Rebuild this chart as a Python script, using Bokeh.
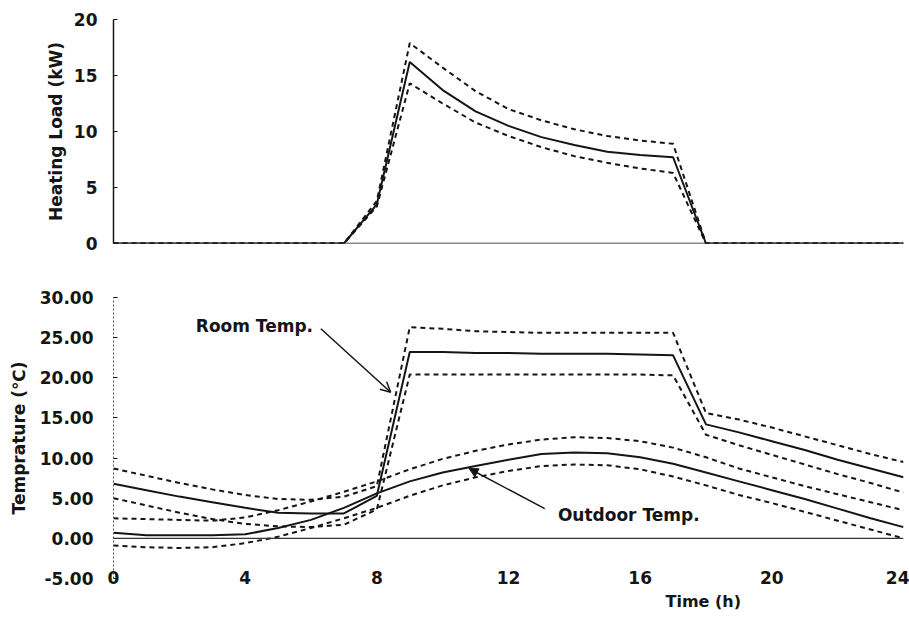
from bokeh.plotting import figure
from bokeh.layouts import column
from bokeh.models import (FixedTicker, NumeralTickFormatter, Span, Label, Arrow,
                          NormalHead, OpenHead, Range1d, Title)
from bokeh.embed import file_html
from bokeh.resources import INLINE

# ---- data -------------------------------------------------------------
hours = list(range(25))

# heating load (kW): mean and upper / lower bounds
load_mid = [0, 0, 0, 0, 0, 0, 0, 0, 3.5, 16.2, 13.7, 11.8, 10.5, 9.5, 8.8, 8.2, 7.9, 7.7, 0, 0, 0, 0, 0, 0, 0]
load_hi = [0, 0, 0, 0, 0, 0, 0, 0, 3.8, 17.9, 15.7, 13.6, 12.0, 11.0, 10.2, 9.6, 9.2, 8.9, 0, 0, 0, 0, 0, 0, 0]
load_lo = [0, 0, 0, 0, 0, 0, 0, 0, 3.3, 14.3, 12.5, 10.8, 9.6, 8.6, 7.8, 7.2, 6.7, 6.3, 0, 0, 0, 0, 0, 0, 0]

# room temperature (deg C)
room_mid = [6.8, 6.0, 5.2, 4.5, 3.8, 3.2, 3.1, 3.1, 5.3, 23.2, 23.2, 23.1, 23.1, 23.0, 23.0, 23.0, 22.9, 22.8,
            14.2, 13.2, 12.1, 11.0, 9.8, 8.7, 7.6]
room_hi = [8.7, 7.8, 6.9, 6.1, 5.4, 4.9, 4.8, 5.2, 6.5, 26.3, 26.1, 25.8, 25.7, 25.6, 25.6, 25.6, 25.6, 25.6,
           15.6, 14.8, 13.8, 12.7, 11.6, 10.5, 9.5]
room_lo = [5.0, 4.1, 3.2, 2.4, 1.8, 1.5, 1.4, 1.7, 3.6, 20.4, 20.4, 20.4, 20.4, 20.4, 20.4, 20.4, 20.4, 20.3,
           12.9, 11.6, 10.4, 9.2, 8.0, 6.9, 5.7]

# outdoor temperature (deg C)
out_mid = [0.7, 0.4, 0.4, 0.4, 0.5, 1.3, 2.3, 3.8, 5.6, 7.1, 8.2, 9.0, 9.8, 10.5, 10.7, 10.6, 10.1, 9.3,
           8.2, 7.1, 6.0, 4.9, 3.7, 2.5, 1.4]
out_hi = [2.5, 2.4, 2.3, 2.2, 2.6, 3.5, 4.6, 5.8, 7.1, 8.6, 9.9, 10.9, 11.7, 12.3, 12.6, 12.5, 12.1, 11.3,
          10.1, 8.7, 7.6, 6.5, 5.5, 4.5, 3.5]
out_lo = [-0.9, -1.1, -1.2, -1.1, -0.6, 0.2, 1.3, 2.5, 3.8, 5.3, 6.6, 7.6, 8.4, 9.0, 9.2, 9.1, 8.6, 7.7,
          6.6, 5.4, 4.4, 3.3, 2.2, 1.1, 0.0]

load_ticks = [0, 5, 10, 15, 20]
temp_ticks = [-5, 0, 5, 10, 15, 20, 25, 30]
time_ticks = [0, 4, 8, 12, 16, 20, 24]

# ---- styling ----------------------------------------------------------
INK = "#151515"
FONT = "DejaVu Sans"
DASH = "5 4"
LW = 2


def style_left_axis(ax, label_standoff, axis_standoff):
    ax.major_label_text_font = FONT
    ax.major_label_text_font_style = "bold"
    ax.major_label_text_font_size = "17px"
    ax.major_label_text_color = INK
    ax.major_label_standoff = label_standoff
    ax.axis_label_text_font = FONT
    ax.axis_label_text_font_style = "bold"
    ax.axis_label_text_font_size = "17px"
    ax.axis_label_text_color = INK
    ax.axis_label_standoff = axis_standoff
    ax.minor_tick_line_color = None
    ax.major_tick_in = 4
    ax.major_tick_out = 0
    ax.major_tick_line_color = INK


# ---- top panel: heating load -------------------------------------------
p1 = figure(width=909, height=270, x_range=Range1d(0, 24), y_range=Range1d(0, 20),
            output_backend="svg", toolbar_location=None,
            min_border_left=113, min_border_right=6, min_border_top=19, min_border_bottom=27)
p1.outline_line_color = None
p1.grid.visible = False
p1.xaxis.visible = False
p1.yaxis.ticker = FixedTicker(ticks=load_ticks)
p1.yaxis.axis_label = "Heating Load (kW)"
p1.yaxis.axis_line_color = INK
p1.yaxis.axis_line_width = 1.5
style_left_axis(p1.yaxis[0], 16, 5)
p1.add_layout(Span(location=0, dimension="width", line_color=INK, line_width=1.5))

p1.line(hours, load_hi, line_color=INK, line_width=LW, line_dash=DASH)
p1.line(hours, load_lo, line_color=INK, line_width=LW, line_dash=DASH)
p1.line(hours, load_mid, line_color=INK, line_width=LW)

# ---- bottom panel: temperatures ----------------------------------------
p2 = figure(width=909, height=348, x_range=Range1d(0, 24), y_range=Range1d(-5, 30),
            output_backend="svg", toolbar_location=None,
            min_border_left=113, min_border_right=6, min_border_top=27, min_border_bottom=40)
p2.outline_line_color = None
p2.grid.visible = False
p2.yaxis.ticker = FixedTicker(ticks=temp_ticks)
p2.yaxis.formatter = NumeralTickFormatter(format="0.00")
p2.yaxis.axis_label = "Temprature (\u2103)"
p2.yaxis.axis_line_color = "#555555"
p2.yaxis.axis_line_dash = "2 2"
p2.yaxis.axis_line_width = 1
style_left_axis(p2.yaxis[0], 20, 8)

p2.xaxis.ticker = FixedTicker(ticks=time_ticks)
p2.xaxis.axis_line_color = None
p2.xaxis.major_tick_line_color = None
p2.xaxis.minor_tick_line_color = None
p2.xaxis.major_label_text_font = FONT
p2.xaxis.major_label_text_font_style = "bold"
p2.xaxis.major_label_text_font_size = "17px"
p2.xaxis.major_label_text_color = INK
p2.xaxis.major_label_standoff = -14

# x-axis title, set off toward the right as in the printed figure
p2.add_layout(Title(text="Time (h)", align="left", offset=552, standoff=7,
                    text_font=FONT, text_font_style="bold", text_font_size="16px",
                    text_color=INK), "below")

p2.add_layout(Span(location=0, dimension="width", line_color="#333333", line_width=1.2))

for series in (room_hi, room_lo, out_hi, out_lo):
    p2.line(hours, series, line_color=INK, line_width=LW, line_dash=DASH)
for series in (room_mid, out_mid):
    p2.line(hours, series, line_color=INK, line_width=LW)

# annotations
room_label_at = (2.5, 26.4)
room_arrow = (6.3, 26.1, 8.42, 18.2)
out_label_at = (13.5, 2.9)
out_arrow = (13.1, 3.7, 10.8, 8.7)

p2.add_layout(Label(x=room_label_at[0], y=room_label_at[1], text="Room Temp.",
                    text_font=FONT, text_font_style="bold", text_font_size="17px",
                    text_color=INK, text_baseline="middle"))
p2.add_layout(Arrow(x_start=room_arrow[0], y_start=room_arrow[1], x_end=room_arrow[2], y_end=room_arrow[3],
                    line_color=INK, line_width=1.5,
                    end=OpenHead(size=10, line_color=INK, line_width=1.5)))
p2.add_layout(Label(x=out_label_at[0], y=out_label_at[1], text="Outdoor Temp.",
                    text_font=FONT, text_font_style="bold", text_font_size="17px",
                    text_color=INK, text_baseline="middle"))
p2.add_layout(Arrow(x_start=out_arrow[0], y_start=out_arrow[1], x_end=out_arrow[2], y_end=out_arrow[3],
                    line_color=INK, line_width=1.5,
                    end=NormalHead(size=9, fill_color=INK, line_color=INK)))

layout = column(p1, p2, spacing=0)
open("out.html", "w").write(file_html(layout, INLINE))
